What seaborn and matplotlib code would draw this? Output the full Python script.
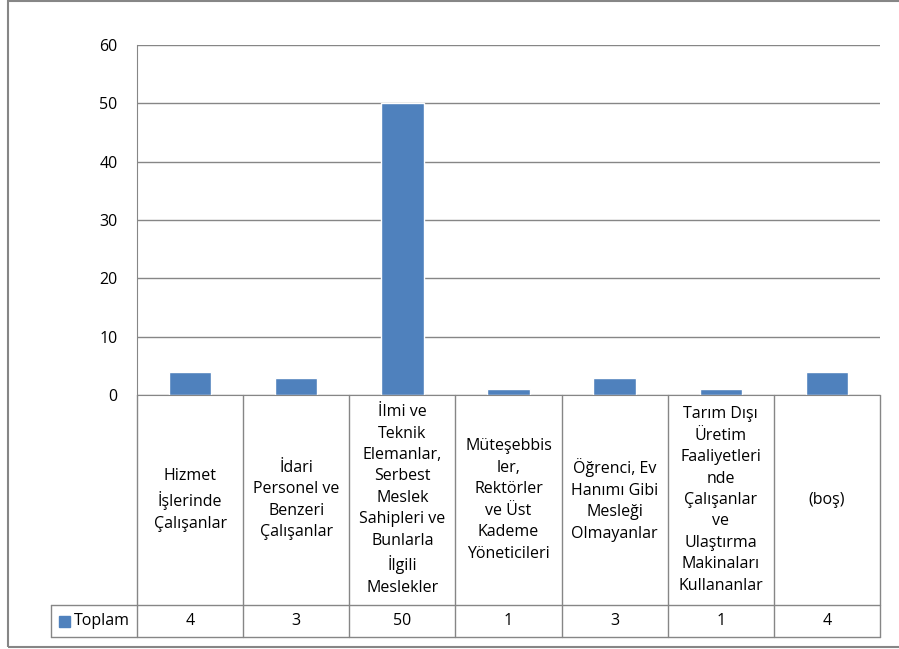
import matplotlib
matplotlib.use('Agg')
import matplotlib.pyplot as plt
import seaborn as sns
import pandas as pd
from matplotlib.patches import Rectangle

# Veriler
categories = [
    'Hizmet\nİşlerinde\nÇalışanlar',
    'İdari\nPersonel ve\nBenzeri\nÇalışanlar',
    'İlmi ve\nTeknik\nElemanlar,\nSerbest\nMeslek\nSahipleri ve\nBunlarla\nİlgili\nMeslekler',
    'Müteşebbis\nler,\nRektörler\nve Üst\nKademe\nYöneticileri',
    'Öğrenci, Ev\nHanımı Gibi\nMesleği\nOlmayanlar',
    'Tarım Dışı\nÜretim\nFaaliyetleri\nnde\nÇalışanlar\nve\nUlaştırma\nMakinaları\nKullananlar',
    '(boş)',
]
values = [4, 3, 50, 1, 3, 1, 4]
series_name = 'Toplam'
y_ticks = [0, 10, 20, 30, 40, 50, 60]

df = pd.DataFrame({'kategori': categories, 'deger': values})

sns.set_style('white')
plt.rcParams['font.family'] = ['Open Sans', 'DejaVu Sans']
plt.rcParams['text.color'] = 'black'
plt.rcParams['ytick.color'] = 'black'

bar_color = '#4F81BD'
line_color = '#868686'
fsize = 11.5

fig = plt.figure(figsize=(8.99, 6.49), dpi=100)
ax = fig.add_axes([137 / 899, 254 / 649, 743 / 899, 350 / 649])

sns.barplot(data=df, x='kategori', y='deger', color=bar_color, width=0.4,
            saturation=1, ax=ax)
n = len(categories)
ax.set_xlim(-0.5, n - 0.5)
ax.set_ylim(y_ticks[0], y_ticks[-1])
ax.set_yticks(y_ticks)
ax.set_xticks([])
ax.set_xlabel('')
ax.set_ylabel('')
ax.yaxis.grid(True, color=line_color, lw=1)
ax.set_axisbelow(True)
for s in ['top', 'right']:
    ax.spines[s].set_visible(False)
ax.spines['left'].set_color(line_color)
ax.spines['bottom'].set_color(line_color)
ax.tick_params(axis='y', length=0, pad=14, labelsize=fsize, labelcolor='black')

# Veri tablosu
trans = ax.get_xaxis_transform()
row1 = -210 / 350
row2 = -242 / 350
px_per_unit = 743 / n
legend_left = -0.5 - 86 / px_per_unit
lkw = dict(transform=trans, color=line_color, lw=1, clip_on=False)

for i in range(n + 1):
    ax.plot([i - 0.5, i - 0.5], [0, row2], **lkw)
ax.plot([legend_left, legend_left], [row1, row2], **lkw)
for y in [row1, row2]:
    ax.plot([legend_left, n - 0.5], [y, y], **lkw)

for i, (c, v) in enumerate(zip(categories, values)):
    ax.text(i, row1 / 2, c, transform=trans, ha='center', va='center',
            multialignment='center', fontsize=fsize, linespacing=1.45)
    ax.text(i, (row1 + row2) / 2, str(v), transform=trans, ha='center',
            va='center', fontsize=fsize)

# Gösterge hücresi
sq_x = -0.5 - 78 / px_per_unit
ax.add_patch(Rectangle((sq_x, (row1 + row2) / 2 - 5.5 / 350), 11 / px_per_unit, 11 / 350,
                       transform=trans, color=bar_color, clip_on=False))
ax.text(sq_x + 15 / px_per_unit, (row1 + row2) / 2, series_name, transform=trans,
        ha='left', va='center', fontsize=fsize)

# Grafik çerçevesi
fig.add_artist(Rectangle((8 / 899, 2 / 649), 1.0, 646 / 649, transform=fig.transFigure,
                         fill=False, ec=line_color, lw=1.5))

plt.savefig('out.png', dpi=100)
